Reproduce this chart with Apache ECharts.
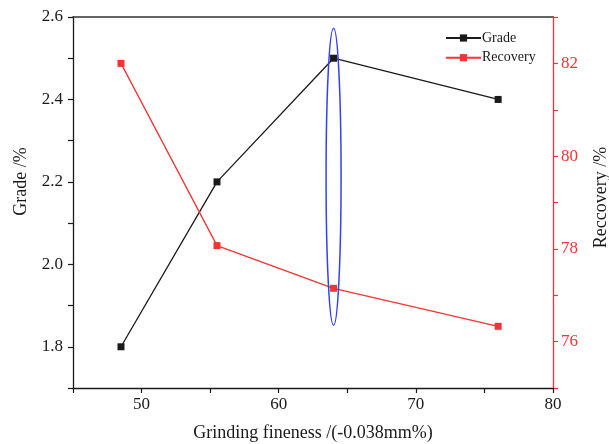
<!DOCTYPE html>
<html>
<head>
<meta charset="utf-8">
<script src="https://cdn.jsdelivr.net/npm/echarts@6/dist/echarts.min.js"></script>
<style>
html,body{margin:0;padding:0;background:#fff;}
#c{width:609px;height:444px;}
</style>
</head>
<body>
<div id="c"></div>
<script>
var fineness = [48.5, 55.5, 64.0, 76.0];
var grade = [1.8, 2.2, 2.5, 2.4];
var recovery = [82.0, 78.07, 77.15, 76.33];
var xTickLabels = [50, 60, 70, 80];
var gradeTickLabels = [1.8, 2.0, 2.2, 2.4, 2.6];
var recoveryTickLabels = [76, 78, 80, 82];
// highlighted region (x, grade top, grade bottom)
var highlight = [64.0, 2.573, 1.852];

var FONT = 'Liberation Serif';
var RED = '#f53333';
var BLK = '#1a1a1a';

function pairs(xs, ys){ return xs.map(function(x,i){ return [x, ys[i]]; }); }
function has(arr, v){ return arr.some(function(a){ return Math.abs(a - v) < 1e-6; }); }

var chart = echarts.init(document.getElementById('c'), null, {renderer:'canvas'});
var option = {
  animation: false,
  backgroundColor: '#fff',
  grid: {left: 73, right: 56, top: 17, bottom: 56, show: false,
         containLabel: false, outerBoundsMode: 'none'},
  legend: {
    left: 445, top: 31, padding: 0, orient: 'vertical', itemWidth: 35, itemHeight: 9, itemGap: 5.7,
    textStyle: {fontFamily: FONT, fontSize: 14, color: BLK, padding: [0,0,0,-4]},
    data: ['Grade', 'Recovery']
  },
  xAxis: [{
    type: 'value', min: 45, max: 80, interval: 5, position: 'bottom',
    name: 'Grinding fineness /(-0.038mm%)', nameLocation: 'middle', nameGap: 36,
    nameTextStyle: {fontFamily: FONT, fontSize: 18, color: BLK},
    axisLine: {lineStyle: {color: BLK, width: 1.3}},
    axisTick: {show: true, inside: false, length: 5, lineStyle: {color: BLK, width: 1.2}},
    axisLabel: {fontFamily: FONT, fontSize: 17, color: BLK, margin: 8,
      formatter: function(v){ return has(xTickLabels, v) ? String(v) : ''; }},
    splitLine: {show: false}
  }, {
    type: 'value', min: 45, max: 80, interval: 5, position: 'top',
    axisLine: {show: true, lineStyle: {color: '#333', width: 1.6}},
    axisTick: {show: false}, axisLabel: {show: false}, splitLine: {show: false}
  }],
  yAxis: [{
    type: 'value', min: 1.7, max: 2.6, interval: 0.1, position: 'left',
    name: 'Grade /%', nameLocation: 'middle', nameGap: 43, nameRotate: 90,
    nameTextStyle: {fontFamily: FONT, fontSize: 18, color: BLK, padding: [0,0,0,42]},
    axisLine: {show: true, lineStyle: {color: BLK, width: 1.3}},
    axisTick: {show: true, inside: false, length: 5, lineStyle: {color: BLK, width: 1.2}},
    axisLabel: {fontFamily: FONT, fontSize: 17, color: BLK, margin: 10,
      formatter: function(v){ return has(gradeTickLabels, v) ? v.toFixed(1) : ''; }},
    splitLine: {show: false}
  }, {
    type: 'value', min: 75, max: 83, interval: 1, position: 'right',
    name: 'Reccovery /%', nameLocation: 'middle', nameGap: 39, nameRotate: 90,
    nameTextStyle: {fontFamily: FONT, fontSize: 18, color: BLK, padding: [0,0,0,10]},
    axisLine: {show: true, lineStyle: {color: RED, width: 1.3}},
    axisTick: {show: true, inside: false, length: 5, lineStyle: {color: RED, width: 1.2}},
    axisLabel: {fontFamily: FONT, fontSize: 17, color: RED, margin: 8,
      formatter: function(v){ return has(recoveryTickLabels, v) ? String(v) : ''; }},
    splitLine: {show: false}
  }],
  series: [{
    name: 'Grade', type: 'line', xAxisIndex: 0, yAxisIndex: 0, data: pairs(fineness, grade),
    symbol: 'rect', symbolSize: 7, showSymbol: true,
    lineStyle: {color: BLK, width: 1.3}, itemStyle: {color: BLK}
  }, {
    name: 'Recovery', type: 'line', xAxisIndex: 0, yAxisIndex: 1, data: pairs(fineness, recovery),
    symbol: 'rect', symbolSize: 7, showSymbol: true,
    lineStyle: {color: RED, width: 1.3}, itemStyle: {color: RED}
  }]
};
chart.setOption(option);

var pTop = chart.convertToPixel({xAxisIndex: 0, yAxisIndex: 0}, [highlight[0], highlight[1]]);
var pBot = chart.convertToPixel({xAxisIndex: 0, yAxisIndex: 0}, [highlight[0], highlight[2]]);
var ry = (pBot[1] - pTop[1]) / 2;
chart.setOption({
  graphic: [{
    type: 'ellipse', z: 100,
    shape: {cx: pTop[0], cy: (pTop[1] + pBot[1]) / 2, rx: 7.5, ry: ry},
    style: {fill: 'none', stroke: '#3340f0', lineWidth: 1.5}
  }]
});
</script>
</body>
</html>
